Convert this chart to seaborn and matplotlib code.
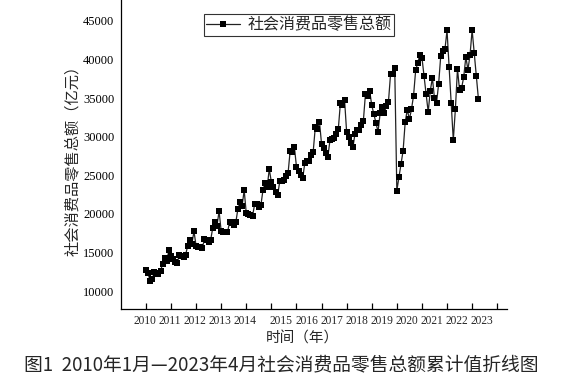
import numpy as np
import pandas as pd
import matplotlib
matplotlib.use("Agg")
import matplotlib.pyplot as plt
import seaborn as sns

# 社会消费品零售总额 月度值（亿元），2010年1月—2023年4月
v2010 = [12718, 12334, 11322, 11510, 12455, 12330, 12252, 12570, 13537, 14285, 13911, 15330]
v2011 = [14500, 14200, 13700, 13649, 14697, 14565, 14408, 14705, 15865, 16547, 16128, 17740]
v2012 = [15830, 15750, 15650, 15603, 16715, 16584, 16315, 16659, 18227, 18934, 18477, 20334]
v2013 = [17750, 17700, 17640, 17600, 18886, 18827, 18513, 18886, 20653, 21491, 21012, 23060]
v2014 = [20060, 20000, 19900, 19700, 21250, 21243, 20866, 21134, 23100, 24000, 23475, 25801]
v2015 = [24100, 23500, 22880, 22386, 24195, 24275, 24339, 24893, 25300, 28200, 28000, 28700]
v2016 = [26100, 25500, 25000, 24600, 26630, 26800, 26900, 27580, 28040, 31200, 30959, 31950]
v2017 = [29040, 28500, 27940, 27320, 29500, 29750, 29800, 30380, 30950, 34300, 34150, 34780]
v2018 = [30550, 29900, 29210, 28600, 30400, 30850, 30830, 31480, 32060, 35560, 35280, 35950]
v2019 = [34070, 32950, 31800, 30620, 33000, 33900, 33080, 33930, 34550, 38100, 38100, 38840]
v2020 = [23000, 24730, 26450, 28180, 31900, 33500, 32240, 33550, 35320, 38600, 39540, 40620]
v2021 = [40250, 37850, 35500, 33200, 35960, 37600, 34950, 34400, 36880, 40470, 41100, 41300]
v2022 = [43760, 39080, 34300, 29550, 33580, 38780, 35980, 36340, 37760, 40330, 38650, 40570]
v2023 = [43810, 40870, 37870, 34920]

tick_years = list(range(2010, 2025))
label_years = list(range(2010, 2024))
series_name = "社会消费品零售总额"

values = (v2010 + v2011 + v2012 + v2013 + v2014 + v2015 + v2016
          + v2017 + v2018 + v2019 + v2020 + v2021 + v2022 + v2023)
df = pd.DataFrame({
    "t": 2010 + np.arange(len(values)) / 12,
    "v": values,
})

sns.set_theme(style="white")
plt.rcParams["font.family"] = ["Liberation Serif", "Noto Sans CJK SC"]
cjk = ["Noto Sans CJK SC", "DejaVu Sans"]

fig = plt.figure(figsize=(5.66, 3.81), dpi=100)
ax = fig.add_axes([121.3 / 566, 1 - 309 / 381, (507 - 121.3) / 566, 309 / 381])

sns.lineplot(data=df, x="t", y="v", ax=ax, color="#222222", linewidth=0.9,
             marker="s", markersize=3.7, markeredgewidth=0,
             markerfacecolor="black", label=series_name)

ax.set_xlim(2009.02, 2024.39)
ax.set_ylim(7670, 47700)
ax.set_yticks(range(10000, 45001, 5000))
ax.tick_params(axis="y", direction="in", length=4.3, width=0.9,
               labelsize=9, pad=5, colors="black")

# tick marks at each year, labels drawn from major ticks (shifted a bit after 2014)
ax.set_xticks(tick_years, minor=True)
label_pos = [y + (0.4 if y >= 2015 else -0.05) for y in label_years]
ax.set_xticks(label_pos, [str(y) for y in label_years])
ax.tick_params(axis="x", which="major", length=0, labelsize=8.3, pad=4)
ax.tick_params(axis="x", which="minor", direction="in", length=4, width=0.9,
               bottom=True, color="black")

for s in ["top", "right"]:
    ax.spines[s].set_visible(False)
for s in ["left", "bottom"]:
    ax.spines[s].set_color("black")
    ax.spines[s].set_linewidth(0.9)
ax.set_xlabel("")
ax.set_ylabel("")

leg = ax.legend(loc="upper left", bbox_to_anchor=(0.214, 0.955), borderaxespad=0,
                frameon=True, fancybox=False, prop={"family": cjk, "size": 11.5},
                handlelength=2.1, handletextpad=0.5, borderpad=0.15)
leg.get_frame().set_edgecolor("black")
leg.get_frame().set_linewidth(0.8)

fig.text(72 / 566, 1 - 157 / 381, "社会消费品零售总额（亿元）", rotation=90,
         ha="center", va="center", fontsize=11, family=cjk)
fig.text(302 / 566, 1 - 339 / 381, "时间（年）", ha="center", va="center",
         fontsize=10.5, family=cjk)
fig.text(281 / 566, 1 - 365 / 381, "图1  2010年1月—2023年4月社会消费品零售总额累计值折线图",
         ha="center", va="center", fontsize=13.5, family=cjk)

fig.savefig("out.png", dpi=100)
